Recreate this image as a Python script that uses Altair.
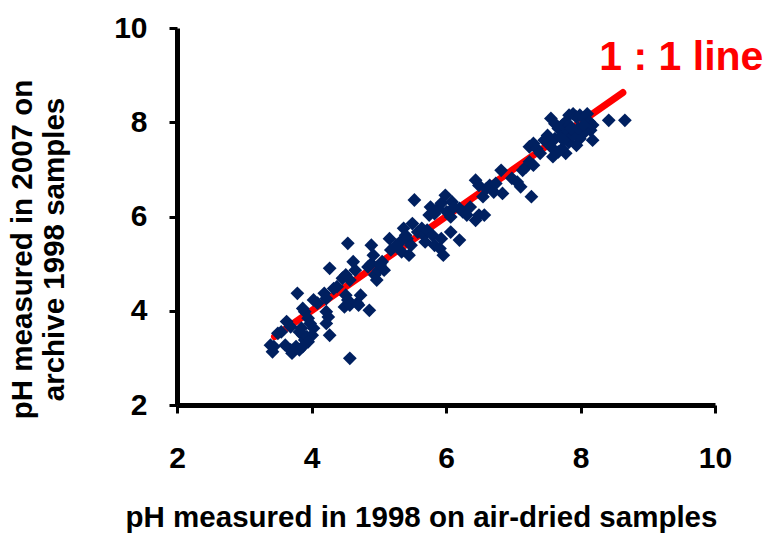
import altair as alt
import pandas as pd

# pH measured in 1998 on air-dried samples (x) vs pH measured in 2007 on archive samples (y)
ph_1998 = [3.42, 3.39, 3.44, 3.50, 3.55, 3.63, 3.69, 3.61, 3.71, 3.69, 3.77, 3.79, 3.82, 3.85,
           3.87, 3.90, 3.93, 3.90, 3.87, 3.95, 3.98, 4.03, 4.01, 3.95, 3.87, 3.82, 4.03, 4.09,
           4.19, 4.22, 4.22, 4.25, 4.22, 4.27, 4.57, 4.27, 4.33, 4.38, 4.46, 4.51, 4.57, 4.51,
           4.54, 4.49, 4.57, 4.62, 4.65, 4.68, 4.70, 4.73, 4.86, 4.54, 4.84, 4.89, 4.92, 4.89,
           4.94, 4.97, 5.00, 5.05, 5.08, 5.02, 5.16, 5.18, 5.26, 5.32, 5.34, 5.37, 5.40, 5.42,
           5.48, 5.45, 5.50, 5.53, 5.58, 5.64, 5.67, 5.69, 5.72, 5.75, 5.77, 5.80, 5.83, 5.91,
           5.96, 5.93, 5.83, 5.88, 5.93, 5.99, 6.01, 6.07, 6.09, 6.12, 6.07, 6.20, 6.20, 6.25,
           6.31, 6.36, 6.44, 6.49, 6.57, 6.44, 6.49, 6.55, 6.60, 6.65, 6.71, 6.74, 6.82, 6.84,
           6.98, 7.06, 7.11, 7.14, 7.19, 7.24, 7.30, 7.27, 7.24, 7.30, 7.35, 7.56, 7.62, 7.51,
           7.46, 7.54, 7.62, 7.67, 7.73, 7.78, 7.83, 7.89, 7.94, 7.99, 8.05, 8.10, 8.13, 8.18,
           8.15, 8.07, 7.99, 7.94, 7.83, 7.78, 7.73, 7.67, 7.59, 7.56, 7.70, 7.81, 7.89, 7.97,
           7.83, 8.18, 8.42, 8.66, 7.40, 7.75, 7.86, 8.05]
ph_2007 = [3.13, 3.27, 3.24, 3.52, 3.55, 3.77, 3.66, 3.27, 3.10, 3.17, 3.24, 4.37, 3.55, 3.63,
           3.48, 3.38, 3.45, 3.98, 4.05, 3.84, 3.73, 3.63, 3.48, 3.34, 3.24, 3.17, 4.23, 4.16,
           4.37, 4.26, 3.98, 3.87, 3.73, 3.48, 2.99, 4.90, 4.47, 4.51, 4.69, 4.76, 4.65, 4.33,
           4.23, 4.08, 4.12, 5.04, 4.86, 4.16, 4.12, 4.33, 4.01, 5.43, 4.93, 5.00, 5.18, 5.39,
           4.76, 4.65, 4.86, 5.04, 4.86, 4.97, 5.53, 5.29, 5.39, 5.46, 5.25, 5.75, 5.60, 5.53,
           5.39, 5.18, 5.85, 6.35, 5.67, 5.75, 5.60, 5.46, 5.71, 6.03, 6.20, 5.60, 5.39, 5.32,
           5.18, 5.53, 6.06, 6.17, 6.28, 6.45, 6.10, 5.99, 6.31, 6.20, 5.67, 5.50, 6.17, 6.10,
           6.03, 6.20, 5.92, 6.03, 6.03, 6.77, 6.66, 6.42, 6.59, 6.66, 6.52, 6.70, 6.98, 6.49,
           6.81, 6.73, 6.63, 6.98, 7.05, 7.16, 7.09, 6.42, 7.48, 7.55, 7.44, 8.08, 7.97, 7.72,
           7.62, 7.58, 7.65, 7.87, 7.94, 8.01, 8.15, 8.18, 8.11, 8.15, 8.08, 8.18, 8.01, 7.94,
           7.83, 7.80, 7.65, 7.51, 7.58, 7.34, 7.44, 7.37, 7.27, 7.48, 7.69, 7.80, 7.72, 7.87,
           7.94, 7.62, 8.04, 8.04, 7.34, 7.62, 7.87, 7.94]

# 1:1 reference line end points
line_vals = [3.45, 8.63]

# annotation
label_text = ["1 : 1 line"]
label_x = [8.28]
label_y = [9.37]

pts = pd.DataFrame({"x": ph_1998, "y": ph_2007})
line_df = pd.DataFrame({"x": line_vals, "y": line_vals})
lab_df = pd.DataFrame({"x": label_x, "y": label_y, "t": label_text})

FONT = "Liberation Sans"

xscale = alt.Scale(domain=[2, 10], nice=False, zero=False)
yscale = alt.Scale(domain=[2, 10], nice=False, zero=False)

xaxis = alt.Axis(values=[2, 4, 6, 8, 10], format="d",
                 title="pH measured in 1998 on air-dried samples",
                 grid=False, labelFontSize=30, labelFontWeight="bold", labelFont=FONT,
                 labelColor="black", labelPadding=30, titleFont=FONT, titleFontSize=29.5,
                 titleFontWeight="bold", titleColor="black", titlePadding=30, titleX=244,
                 domainColor="black", domainWidth=5, tickColor="black", tickWidth=3,
                 tickSize=8, labelFlush=False, labelOverlap=False)
yaxis = alt.Axis(values=[2, 4, 6, 8, 10], format="d",
                 title=["pH measured in 2007 on", "archive 1998 samples"],
                 grid=False, labelFontSize=30, labelFontWeight="bold", labelFont=FONT,
                 labelColor="black", labelPadding=22, titleFont=FONT, titleFontSize=29.5,
                 titleFontWeight="bold", titleColor="black", titlePadding=44, titleY=221,
                 domainColor="black", domainWidth=5, tickColor="black", tickWidth=3,
                 tickSize=8, labelFlush=False, labelOverlap=False, titleLineHeight=32)

points = alt.Chart(pts).mark_point(shape="diamond", filled=True, size=190, color="#002060",
                                   opacity=1).encode(
    x=alt.X("x:Q", scale=xscale, axis=xaxis),
    y=alt.Y("y:Q", scale=yscale, axis=yaxis),
)

line = alt.Chart(line_df).mark_line(color="#FF0000", strokeWidth=7, strokeCap="round").encode(
    x=alt.X("x:Q", scale=xscale),
    y=alt.Y("y:Q", scale=yscale),
)

label = alt.Chart(lab_df).mark_text(color="#FF0000", fontSize=41, fontWeight="bold", font=FONT,
                                    align="left", baseline="middle", clip=False).encode(
    x=alt.X("x:Q", scale=xscale),
    y=alt.Y("y:Q", scale=yscale),
    text="t:N",
)

chart = alt.layer(line, points, label).properties(
    width=538, height=377,
    autosize=alt.AutoSizeParams(type="none"),
    padding={"left": 177, "top": 28, "right": 56, "bottom": 128},
).configure_view(stroke=None)

chart.save("out.html", embed_options={"renderer": "svg", "actions": False})
